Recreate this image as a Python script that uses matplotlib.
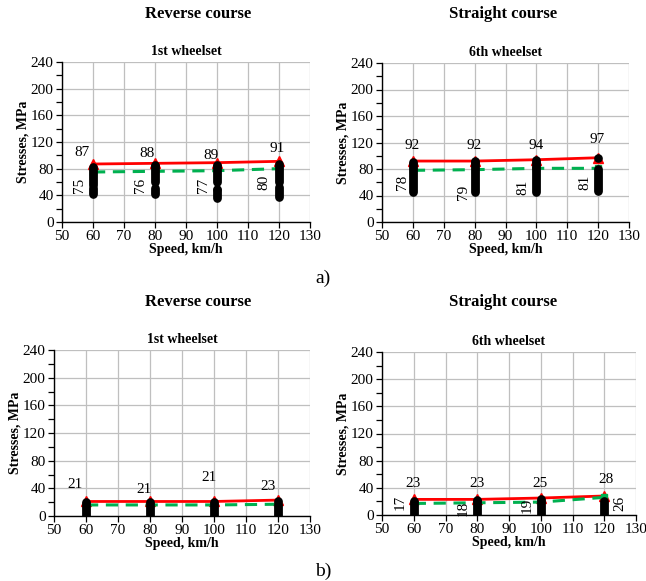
import matplotlib
matplotlib.use("Agg")
import matplotlib.pyplot as plt
from matplotlib.ticker import MultipleLocator

plt.rcParams['font.family'] = ['Liberation Serif', 'DejaVu Serif']

speeds = [60, 80, 100, 120]

# ---- a) panels ----
a_left_max = [87, 88, 89, 91]
a_left_mean = [75, 76, 77, 80]
a_left_obs = [
    [42, 45, 48, 51, 56, 59, 62, 65, 68, 71, 74, 77, 80, 83],
    [42, 45, 48, 51, 60, 63, 66, 69, 72, 75, 78, 81, 84, 86],
    [36, 39, 42, 45, 48, 50, 60, 63, 66, 69, 72, 75, 78, 81, 84, 86],
    [38, 41, 44, 47, 50, 52, 60, 63, 66, 69, 72, 75, 78, 81, 84, 87],
]
a_right_max = [92, 92, 94, 97]
a_right_mean = [78, 79, 81, 81]
a_right_obs = [
    [45, 48, 51, 54, 57, 60, 63, 66, 69, 72, 75, 78, 81, 84, 87, 90],
    [45, 48, 51, 54, 57, 60, 63, 66, 69, 72, 75, 78, 81, 84, 87, 90, 92],
    [46, 49, 52, 55, 58, 61, 64, 67, 70, 73, 76, 79, 82, 85, 88, 91, 94],
    [47, 50, 53, 56, 59, 62, 65, 68, 71, 74, 77, 80, 96],
]

# ---- b) panels ----
b_left_max = [21, 21, 21, 23]
b_left_mean = [16, 16, 16, 17]
b_left_obs = [
    [0, 3, 6, 9, 12, 15, 18, 20],
    [0, 3, 6, 9, 12, 15, 18, 20],
    [0, 3, 6, 9, 12, 15, 18, 20],
    [0, 3, 6, 9, 12, 15, 18, 21],
]
b_right_max = [23, 23, 25, 28]
b_right_mean = [17, 18, 19, 26]
b_right_obs = [
    [0, 3, 6, 9, 12, 15, 18, 21],
    [0, 3, 6, 9, 12, 15, 18, 21, 22],
    [0, 3, 6, 9, 12, 15, 18, 21, 23],
    [0, 3, 6, 9, 12, 15, 18, 21],
]

W, H = 646, 581
fig = plt.figure(figsize=(W / 100, H / 100), dpi=100)


def px_axes(left, top, right, bottom):
    return fig.add_axes([left / W, 1 - bottom / H, (right - left) / W, (bottom - top) / H])


RED = '#FF0000'
GREEN = '#00B050'


def draw_panel(ax, title, mx, mean, obs, max_off, mean_off, show_mean_labels=True):
    ax.set_xlim(50, 130)
    ax.set_ylim(0, 240)
    ax.xaxis.set_major_locator(MultipleLocator(10))
    ax.yaxis.set_major_locator(MultipleLocator(40))
    ax.yaxis.set_minor_locator(MultipleLocator(20))
    ax.grid(True, which='major', color='#BFBFBF', linewidth=0.9)
    ax.set_axisbelow(True)
    for s in ['top', 'right']:
        ax.spines[s].set_visible(False)
    for s in ['left', 'bottom']:
        ax.spines[s].set_linewidth(1.0)
    ax.tick_params(axis='both', which='both', direction='out', labelsize=11, width=0.9, pad=2)
    ax.tick_params(axis='both', which='major', length=4)
    ax.tick_params(axis='y', which='minor', length=4)
    ax.plot(speeds, mx, color=RED, linewidth=2, marker='^', markersize=7, zorder=3)
    ax.plot(speeds, mean, color=GREEN, linewidth=2.2, linestyle=(0, (4, 2.5)),
            marker='s', markersize=5, zorder=3)
    for x, vals in zip(speeds, obs):
        ax.plot([x] * len(vals), vals, linestyle='none', marker='o', markersize=5.2,
                color='black', zorder=4)
    for x, v, (dx, dy) in zip(speeds, mx, max_off):
        ax.text(x + dx, v + dy, str(v), ha='center', va='center', fontsize=11, zorder=5)
    if show_mean_labels:
        for x, v, (dx, dy) in zip(speeds, mean, mean_off):
            ax.text(x + dx, v + dy, str(v), ha='center', va='center', rotation=90,
                    fontsize=11, zorder=5)
    ax.set_title(title, fontsize=10, fontweight='bold', pad=5)
    ax.set_xlabel('Speed, km/h', fontsize=10, fontweight='bold', labelpad=0)
    ax.set_ylabel('Stresses, MPa', fontsize=10, fontweight='bold', labelpad=1)


ax1 = px_axes(62, 62, 310, 222)
draw_panel(ax1, '1st wheelset', a_left_max, a_left_mean, a_left_obs,
           [(-3.5, 18), (-2.5, 15), (-2, 11), (-0.6, 20)],
           [(-4.5, -20), (-4.8, -21), (-4.2, -22), (-4.8, -20)])

ax2 = px_axes(382, 63, 629, 222)
draw_panel(ax2, '6th wheelset', a_right_max, a_right_mean, a_right_obs,
           [(-0.3, 23), (-0.2, 23), (-0.2, 22), (-0.4, 27)],
           [(-3.5, -18), (-3.7, -34), (-4.3, -28), (-4.3, -21)])

ax3 = px_axes(54, 350, 310, 516)
draw_panel(ax3, '1st wheelset', b_left_max, b_left_mean, b_left_obs,
           [(-3.4, 25), (-2, 18), (-1.6, 35), (-3, 19)],
           [(0, 0)] * 4, show_mean_labels=False)

ax4 = px_axes(382, 352, 636, 515)
draw_panel(ax4, '6th wheelset', b_right_max, b_right_mean, b_right_obs,
           [(-0.2, 24), (-0.2, 24), (-0.2, 22), (0.5, 25)],
           [(-4.3, 2), (-4.5, -8), (-4.3, -5), (5, -9)])

for y in (14, 302):
    fig.text(198 / W, 1 - y / H, 'Reverse course', ha='center', va='center',
             fontsize=12, fontweight='bold')
    fig.text(503 / W, 1 - y / H, 'Straight course', ha='center', va='center',
             fontsize=12, fontweight='bold')
fig.text(323 / W, 1 - 278 / H, 'a)', ha='center', va='center', fontsize=14)
fig.text(323 / W, 1 - 571 / H, 'b)', ha='center', va='center', fontsize=14)

fig.savefig('out.png', dpi=100, facecolor='white')
